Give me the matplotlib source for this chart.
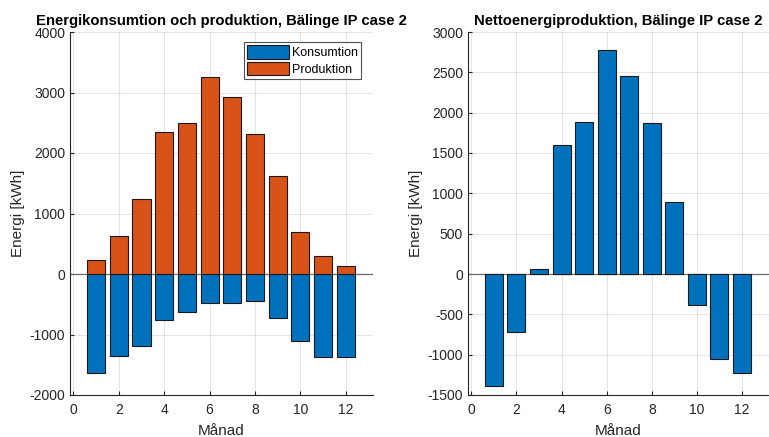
import matplotlib
matplotlib.use("Agg")
import matplotlib.pyplot as plt
import numpy as np

months = [1, 2, 3, 4, 5, 6, 7, 8, 9, 10, 11, 12]
konsumtion = [-1639, -1353, -1192, -762, -624, -475, -480, -447, -729, -1104, -1364, -1375]
produktion = [232, 622, 1235, 2352, 2501, 3255, 2931, 2319, 1620, 695, 291, 126]
netto = [-1386, -716, 58, 1593, 1883, 2780, 2458, 1870, 898, -389, -1059, -1233]

title_left = "Energikonsumtion och produktion, Bälinge IP case 2"
title_right = "Nettoenergiproduktion, Bälinge IP case 2"
xlabel = "Månad"
ylabel = "Energi [kWh]"
legend_labels = ["Konsumtion", "Produktion"]
xticks = [0, 2, 4, 6, 8, 10, 12]
yticks_left = [-2000, -1000, 0, 1000, 2000, 3000, 4000]
yticks_right = [-1500, -1000, -500, 0, 500, 1000, 1500, 2000, 2500, 3000]

BLUE = "#0072BD"
ORANGE = "#D95319"
TXT = "#262626"

plt.rcParams["font.family"] = ["Liberation Sans", "DejaVu Sans"]
plt.rcParams["axes.unicode_minus"] = False

W, H = 769, 437
fig = plt.figure(figsize=(W / 100, H / 100), dpi=100)
ax1 = fig.add_axes([70 / W, (H - 395) / H, (373 - 70) / W, (395 - 32) / H])
ax2 = fig.add_axes([468 / W, (H - 395) / H, (769 - 468) / W, (395 - 32) / H])


def style(ax, yt, ylim):
    ax.set_xlim(-0.15, 13.2)
    ax.set_ylim(*ylim)
    ax.set_xticks(xticks)
    ax.set_yticks(yt)
    ax.grid(True, color="#000000", alpha=0.1, linewidth=0.8)
    ax.set_axisbelow(True)
    for s in ["top", "right"]:
        ax.spines[s].set_visible(False)
    for s in ["left", "bottom"]:
        ax.spines[s].set_color(TXT)
        ax.spines[s].set_linewidth(0.8)
    ax.tick_params(direction="in", length=3, width=0.8, colors=TXT, labelsize=10)
    ax.tick_params(axis="x", pad=6)
    ax.set_xlabel(xlabel, fontsize=11, color=TXT, labelpad=5)
    ax.set_ylabel(ylabel, fontsize=11, color=TXT, labelpad=3)
    ax.axhline(0, color="#6e6e6e", linewidth=0.9, zorder=1.5)


ax1.bar(months, konsumtion, width=0.8, color=BLUE, edgecolor="#1a1a1a", linewidth=0.8, label=legend_labels[0], zorder=2)
ax1.bar(months, produktion, width=0.8, color=ORANGE, edgecolor="#1a1a1a", linewidth=0.8, label=legend_labels[1], zorder=2)
style(ax1, yticks_left, (-2000, 4000))
ax1.set_title(title_left, fontsize=10.7, fontweight="bold", pad=5)
leg = ax1.legend(loc="upper right", bbox_to_anchor=(0.96, 0.972), fontsize=9, frameon=True, fancybox=False,
                 edgecolor="#262626", handlelength=3.3, handleheight=1.3, handletextpad=0.25,
                 borderpad=0.25, labelspacing=0.2, borderaxespad=0)
leg.get_frame().set_linewidth(0.8)

ax2.bar(months, netto, width=0.8, color=BLUE, edgecolor="#1a1a1a", linewidth=0.8, zorder=2)
style(ax2, yticks_right, (-1500, 3000))
ax2.set_title(title_right, fontsize=10.7, fontweight="bold", pad=5)

fig.savefig("out.png", dpi=100)
